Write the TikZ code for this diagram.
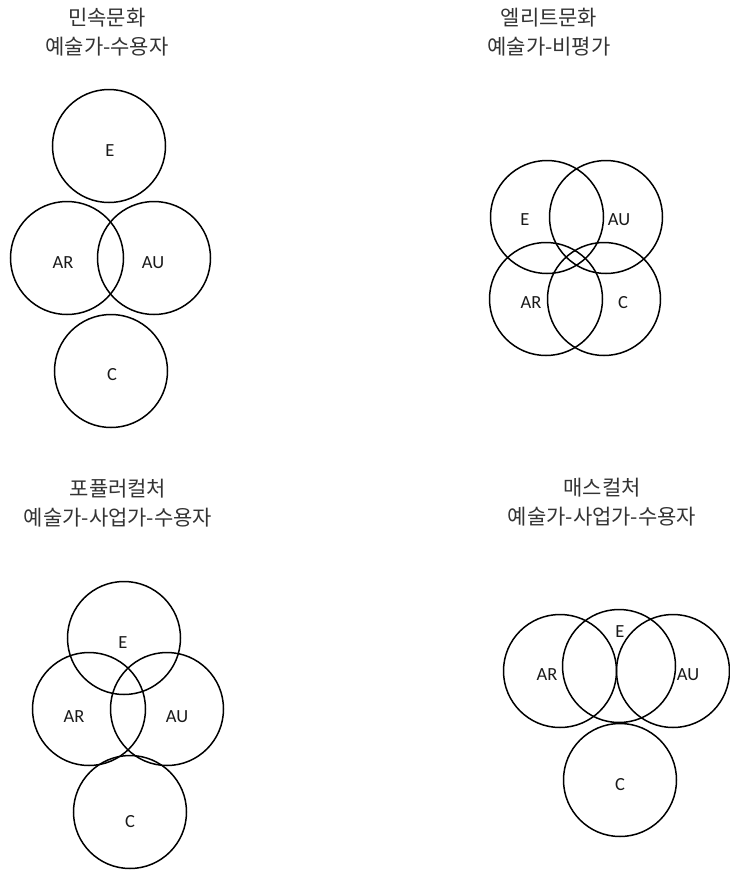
\documentclass[tikz,border=0pt]{standalone}
\usepackage{fontspec}
\setmainfont{Carlito}
\newfontfamily\krfont{Noto Sans CJK KR}
\usepackage{tikz}

\tikzset{
  ring/.style={draw=black, line width=1.5pt, circle, minimum size=113pt, inner sep=0pt},
  tag/.style={font=\fontsize{18.5}{18.5}\selectfont, text=black!90},
  head/.style={font=\krfont\fontsize{21}{29}\selectfont, text=black!80, align=center}
}

\begin{document}
\begin{tikzpicture}[x=1pt, y=-1pt]
  \useasboundingbox (0,0) rectangle (729,876);

  % 민속문화
  \node[head] (t1) at (107,32) {민속문화\\예술가-수용자};
  \node[ring] (e1) at (109,146) {};
  \node[ring] (ar1) at (67,258) {};
  \node[ring] (au1) at (154,258) {};
  \node[ring] (c1) at (111,371) {};
  \node[tag] (le1) at (110,151) {E};
  \node[tag] (lar1) at (63,263) {AR};
  \node[tag] (lau1) at (153,263) {AU};
  \node[tag] (lc1) at (112,375) {C};

  % 엘리트문화
  \node[head] (t2) at (549,32) {엘리트문화\\예술가-비평가};
  \node[ring] (e2) at (547,217) {};
  \node[ring] (au2) at (606,217) {};
  \node[ring] (ar2) at (546,299) {};
  \node[ring] (c2) at (604,299) {};
  \node[tag] (le2) at (525,220) {E};
  \node[tag] (lau2) at (619,220) {AU};
  \node[tag] (lar2) at (531,303) {AR};
  \node[tag] (lc2) at (623,303) {C};

  % 포퓰러컬처
  \node[head] (t3) at (118,503) {포퓰러컬처\\예술가-사업가-수용자};
  \node[ring] (e3) at (124,638) {};
  \node[ring] (ar3) at (89,709) {};
  \node[ring] (au3) at (167,709) {};
  \node[ring] (c3) at (130,812) {};
  \node[tag] (le3) at (123,643) {E};
  \node[tag] (lar3) at (74,717) {AR};
  \node[tag] (lau3) at (177,717) {AU};
  \node[tag] (lc3) at (130,822) {C};

  % 매스컬처
  \node[head] (t4) at (602,502) {매스컬처\\예술가-사업가-수용자};
  \node[ring] (ar4) at (560,671) {};
  \node[ring] (e4) at (619,666) {};
  \node[ring] (au4) at (673,671) {};
  \node[ring] (c4) at (620,780) {};
  \node[tag] (lar4) at (547,675) {AR};
  \node[tag] (le4) at (620,632) {E};
  \node[tag] (lau4) at (688,675) {AU};
  \node[tag] (lc4) at (620,785) {C};
\end{tikzpicture}
\end{document}
